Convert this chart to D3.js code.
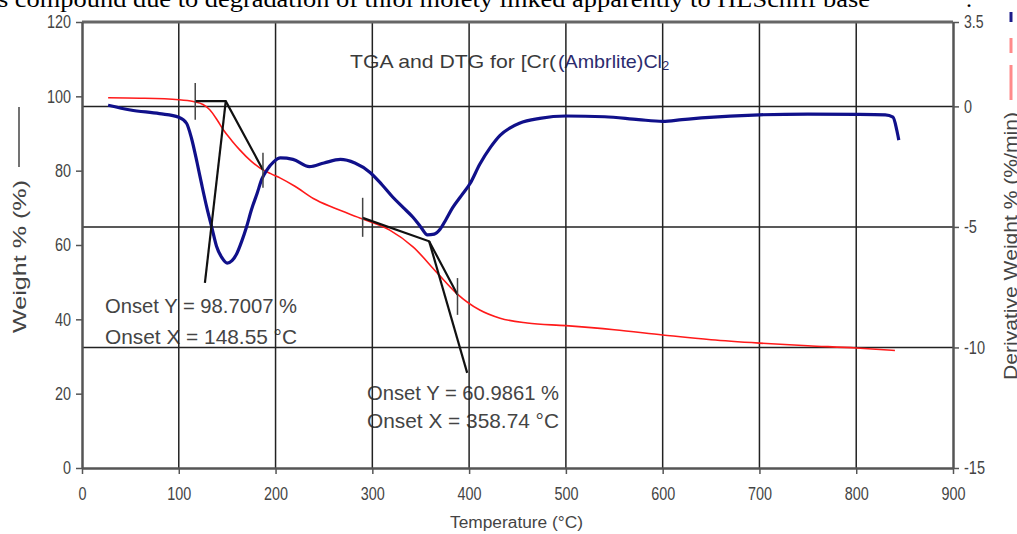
<!DOCTYPE html>
<html>
<head>
<meta charset="utf-8">
<script src="https://cdn.jsdelivr.net/npm/d3@7"></script>
<style>
  body { margin: 0; background: #fff; }
  svg { display: block; }
  .narrow { font-family: "Liberation Sans Narrow", "Arial Narrow", "Liberation Sans", Arial, sans-serif; }
</style>
</head>
<body>
<div id="chart"></div>
<script>
const tgaTemp   = [27, 60, 100, 115, 125, 132, 140, 146, 155, 163, 175, 184, 195, 205, 220, 239, 260, 290, 318, 342, 367, 387, 411, 432, 460, 500, 550, 600, 650, 700, 750, 800, 840];
const tgaWeight = [99.6, 99.5, 99.1, 98.6, 97.8, 96.4, 93.5, 91.0, 88.0, 85.6, 82.5, 80.7, 79.2, 78.0, 75.8, 72.5, 70.0, 67.0, 64.0, 59.5, 52.5, 47.0, 42.5, 40.3, 39.0, 38.3, 37.2, 35.8, 34.5, 33.6, 32.9, 32.3, 31.6];

const dtgTemp  = [27, 50, 80, 100, 108, 113, 119, 124, 129, 134, 139, 145, 150, 155, 160, 165, 170, 175, 181, 186, 191, 198, 205, 218, 235, 250, 267, 282, 298, 310, 321, 332, 342, 350, 357, 364, 370, 376, 383, 392, 401, 411, 422, 432, 442, 452, 473, 500, 540, 575, 600, 620, 640, 700, 750, 800, 830, 838, 842, 844];
const dtgValue = [0.05, -0.15, -0.3, -0.45, -0.7, -1.3, -2.35, -3.3, -4.2, -5.0, -5.8, -6.3, -6.5, -6.4, -6.1, -5.6, -5.0, -4.3, -3.6, -3.0, -2.64, -2.3, -2.14, -2.2, -2.5, -2.35, -2.2, -2.35, -2.75, -3.25, -3.76, -4.2, -4.6, -5.0, -5.33, -5.3, -5.1, -4.7, -4.2, -3.7, -3.2, -2.4, -1.7, -1.2, -0.9, -0.7, -0.5, -0.4, -0.43, -0.55, -0.62, -0.55, -0.48, -0.35, -0.32, -0.33, -0.35, -0.45, -1.0, -1.4];

// onset construction lines [temp, weight]
const onset1Lines = [[[117, 98.7], [148.55, 98.7], [187, 80.2]], [[148.55, 98.7], [127, 49.8]]];
const onset1Ticks = [[117, 103.6, 93.7], [187, 84.8, 75.4]];
const onset2Lines = [[[290, 67.3], [358.74, 60.99], [388, 46.6]], [[358.74, 60.99], [398, 25.6]]];
const onset2Ticks = [[290, 72.7, 62.2], [388, 51.1, 41.2]];

const xTicks = [0, 100, 200, 300, 400, 500, 600, 700, 800, 900];
const yLeftTicks = [0, 20, 40, 60, 80, 100, 120];
const yRightTicks = [3.5, 0, -5, -10, -15];
const yRightGrid = [0, -5, -10];
const xGrid = [100, 200, 300, 400, 500, 600, 700, 800];

const onsetLabels = [
    ['Onset Y = 98.7007 %', 'Onset X = 148.55 °C'],
    ['Onset Y = 60.9861 %', 'Onset X = 358.74 °C']
];

const width = 1017, height = 534;
const margin = {top: 22, right: 64, bottom: 66, left: 82};

const xScale = d3.scaleLinear().domain([0, 900]).range([margin.left, width - margin.right]);
const yLeft = d3.scaleLinear().domain([0, 120]).range([height - margin.bottom, margin.top]);
const yRight = d3.scaleLinear().domain([-15, 3.5]).range([height - margin.bottom, margin.top]);

// narrow digits: squeeze the fallback font to Arial Narrow widths
const charW = {'.': 3.6, '-': 5};
const narrowWidth = s => String(s).split('').reduce((a, c) => a + (charW[c] || 8), 0);

const svg = d3.select('#chart')
    .append('svg')
    .attr('width', width)
    .attr('height', height);

// caption text cut at top of the image
svg.append('text')
    .attr('x', -2)
    .attr('y', 7)
    .attr('textLength', 872)
    .attr('lengthAdjust', 'spacingAndGlyphs')
    .style('font-family', '"Liberation Serif", "Times New Roman", serif')
    .style('font-size', '24px')
    .attr('fill', '#000')
    .text('s compound due to degradation of thiol moiety linked apparently to HLSchiff base');
svg.append('text')
    .attr('x', 966)
    .attr('y', 7)
    .style('font-family', '"Liberation Serif", serif')
    .style('font-size', '24px')
    .text('.');

// title
const title = svg.append('text')
    .attr('class', 'narrow')
    .attr('y', 68)
    .style('font-size', '19px');
title.append('tspan')
    .attr('x', 350)
    .attr('textLength', 206)
    .attr('lengthAdjust', 'spacingAndGlyphs')
    .attr('fill', '#3a3a3a')
    .text('TGA and DTG for [Cr(');
title.append('tspan')
    .attr('x', 558)
    .attr('textLength', 104)
    .attr('lengthAdjust', 'spacingAndGlyphs')
    .attr('fill', '#2b2b6e')
    .text('(Ambrlite)Cl');
title.append('tspan')
    .attr('x', 662)
    .attr('dy', 2)
    .attr('fill', '#2b2b6e')
    .style('font-size', '13px')
    .text('2');

// onset annotations
const labelPos = [{x: 105, y: [313, 344]}, {x: 367, y: [400, 428]}];
onsetLabels.forEach((lines, i) => {
    lines.forEach((t, j) => {
        svg.append('text')
            .attr('class', 'narrow')
            .attr('x', labelPos[i].x)
            .attr('y', labelPos[i].y[j])
            .attr('textLength', 192)
            .attr('lengthAdjust', 'spacingAndGlyphs')
            .attr('fill', '#444')
            .style('font-size', '21px')
            .text(t);
    });
});

// grid
svg.append('g')
    .selectAll('line')
    .data(xGrid)
    .enter().append('line')
    .attr('x1', d => xScale(d))
    .attr('x2', d => xScale(d))
    .attr('y1', yLeft(120))
    .attr('y2', yLeft(0))
    .attr('stroke', '#222')
    .attr('stroke-width', 1.5);

svg.append('g')
    .selectAll('line')
    .data(yRightGrid)
    .enter().append('line')
    .attr('x1', xScale(0))
    .attr('x2', xScale(900))
    .attr('y1', d => yRight(d))
    .attr('y2', d => yRight(d))
    .attr('stroke', '#222')
    .attr('stroke-width', 1.5);

// frame top
svg.append('line')
    .attr('x1', xScale(0)).attr('x2', xScale(900))
    .attr('y1', yLeft(120)).attr('y2', yLeft(120))
    .attr('stroke', '#666').attr('stroke-width', 3);

// axes
function styleAxis(g) {
    g.select('.domain').attr('stroke', '#555').attr('stroke-width', 2.5);
    g.selectAll('.tick line').attr('stroke', '#555').attr('stroke-width', 1.5);
    g.selectAll('.tick text')
        .attr('class', 'narrow')
        .attr('fill', '#444')
        .style('font-size', '18px')
        .attr('textLength', function() { return narrowWidth(this.textContent); })
        .attr('lengthAdjust', 'spacingAndGlyphs');
}

svg.append('g')
    .attr('transform', `translate(0, ${yLeft(0)})`)
    .call(d3.axisBottom(xScale).tickValues(xTicks).tickSize(6).tickSizeOuter(0).tickPadding(13))
    .call(styleAxis);

svg.append('g')
    .attr('transform', `translate(${xScale(0)}, 0)`)
    .call(d3.axisLeft(yLeft).tickValues(yLeftTicks).tickSize(6).tickSizeOuter(0).tickPadding(5))
    .call(styleAxis);

svg.append('g')
    .attr('transform', `translate(${xScale(900)}, 0)`)
    .call(d3.axisRight(yRight).tickValues(yRightTicks).tickFormat(d => d).tickSize(6).tickSizeOuter(0).tickPadding(5))
    .call(styleAxis);

// axis titles
svg.append('text')
    .attr('class', 'narrow')
    .attr('x', 450)
    .attr('y', 528)
    .attr('textLength', 133)
    .attr('lengthAdjust', 'spacingAndGlyphs')
    .attr('fill', '#444')
    .style('font-size', '16px')
    .text('Temperature (°C)');

svg.append('text')
    .attr('class', 'narrow')
    .attr('transform', 'translate(26, 333) rotate(-90)')
    .attr('textLength', 153)
    .attr('lengthAdjust', 'spacingAndGlyphs')
    .attr('fill', '#444')
    .style('font-size', '18px')
    .text('Weight % (%)');
svg.append('line')
    .attr('x1', 19).attr('x2', 19)
    .attr('y1', 107).attr('y2', 167)
    .attr('stroke', '#444').attr('stroke-width', 1.5);

svg.append('text')
    .attr('class', 'narrow')
    .attr('transform', 'translate(1017, 380) rotate(-90)')
    .attr('textLength', 268)
    .attr('lengthAdjust', 'spacingAndGlyphs')
    .attr('fill', '#444')
    .style('font-size', '18px')
    .text('Derivative Weight % (%/min)');

// legend stubs at right edge
const legendStubs = [{y1: 12, y2: 22, c: '#1c1c8a'}, {y1: 38, y2: 53, c: '#ff8a8a'}, {y1: 65, y2: 100, c: '#ff8a8a'}];
svg.append('g')
    .selectAll('line')
    .data(legendStubs)
    .enter().append('line')
    .attr('x1', 1011).attr('x2', 1011)
    .attr('y1', d => d.y1).attr('y2', d => d.y2)
    .attr('stroke', d => d.c)
    .attr('stroke-width', 3);

// curves
const tgaLine = d3.line()
    .x((d, i) => xScale(tgaTemp[i]))
    .y(d => yLeft(d))
    .curve(d3.curveMonotoneX);

svg.append('path')
    .datum(tgaWeight)
    .attr('d', tgaLine)
    .attr('fill', 'none')
    .attr('stroke', '#ff1a1a')
    .attr('stroke-width', 1.6);

const dtgLine = d3.line()
    .x((d, i) => xScale(dtgTemp[i]))
    .y(d => yRight(d))
    .curve(d3.curveMonotoneX);

svg.append('path')
    .datum(dtgValue)
    .attr('d', dtgLine)
    .attr('fill', 'none')
    .attr('stroke', '#10108a')
    .attr('stroke-width', 3.2)
    .attr('stroke-linejoin', 'round');

// onset tangent construction
const onsetLine = d3.line()
    .x(d => xScale(d[0]))
    .y(d => yLeft(d[1]));

[onset1Lines, onset2Lines].forEach(set => {
    set.forEach(pts => {
        svg.append('path')
            .datum(pts)
            .attr('d', onsetLine)
            .attr('fill', 'none')
            .attr('stroke', '#111')
            .attr('stroke-width', 2.2);
    });
});

svg.append('g')
    .selectAll('line')
    .data(onset1Ticks.concat(onset2Ticks))
    .enter().append('line')
    .attr('x1', d => xScale(d[0]))
    .attr('x2', d => xScale(d[0]))
    .attr('y1', d => yLeft(d[1]))
    .attr('y2', d => yLeft(d[2]))
    .attr('stroke', '#444')
    .attr('stroke-width', 1.5);
</script>
</body>
</html>
